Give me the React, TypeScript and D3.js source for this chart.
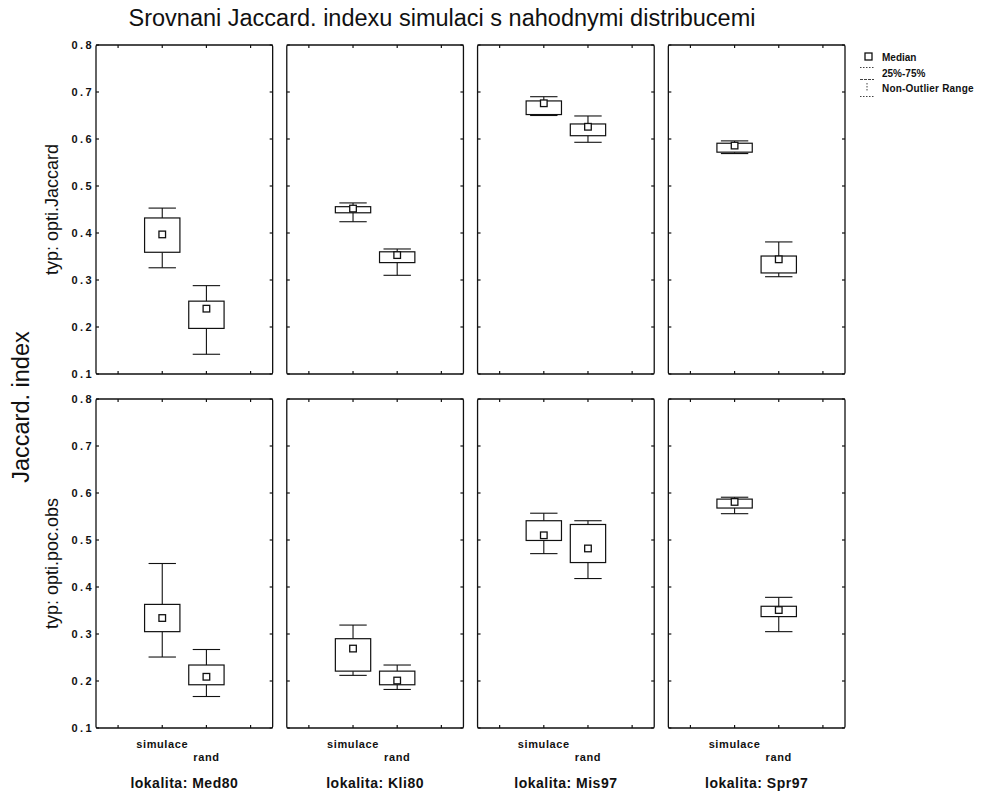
import React from "react";
import * as d3 from "d3";

const title = "Srovnani Jaccard. indexu simulaci s nahodnymi distribucemi";
const yAxisTitle = "Jaccard. index";
const locations = ["Med80", "Kli80", "Mis97", "Spr97"];
const types = ["opti.Jaccard", "opti.poc.obs"];
const groups = ["simulace", "rand"];
const yTicks = [0.1, 0.2, 0.3, 0.4, 0.5, 0.6, 0.7, 0.8];
const xTickPositions = [0.5, 1.5, 2.5, 3.5];
const groupPositions = [1.5, 2.5];

// [min, q1, median, q3, max] per location
const jaccardSimulace = [
  [0.326, 0.359, 0.397, 0.432, 0.453],
  [0.424, 0.443, 0.452, 0.456, 0.464],
  [0.65, 0.652, 0.676, 0.681, 0.69],
  [0.569, 0.572, 0.586, 0.591, 0.596],
];
const jaccardRand = [
  [0.142, 0.197, 0.239, 0.255, 0.288],
  [0.31, 0.337, 0.353, 0.36, 0.366],
  [0.593, 0.607, 0.626, 0.632, 0.649],
  [0.307, 0.315, 0.344, 0.351, 0.381],
];
const pocObsSimulace = [
  [0.251, 0.305, 0.334, 0.363, 0.45],
  [0.212, 0.221, 0.269, 0.29, 0.319],
  [0.471, 0.499, 0.51, 0.541, 0.557],
  [0.556, 0.568, 0.581, 0.587, 0.591],
];
const pocObsRand = [
  [0.167, 0.192, 0.209, 0.234, 0.267],
  [0.182, 0.192, 0.201, 0.221, 0.234],
  [0.418, 0.452, 0.482, 0.533, 0.541],
  [0.305, 0.337, 0.351, 0.359, 0.378],
];

const seriesByType = [
  [jaccardSimulace, jaccardRand],
  [pocObsSimulace, pocObsRand],
];

const legendLabels = ["Median", "25%-75%", "Non-Outlier Range"];

const FONT = "'Liberation Sans', Arial, Helvetica, sans-serif";
const INK = "#111";

export default function App() {
  const W = 982;
  const H = 796;
  const colX = d3.scaleBand<string>().domain(locations).range([96, 845]).paddingInner(0.074).paddingOuter(0);
  const rowTop = d3.scaleOrdinal<string, number>().domain(types).range([45, 399]);
  const panelH = 329;
  const pw = colX.bandwidth();
  const xs = d3.scaleLinear().domain([0, 4]).range([0, pw]);
  const boxW = xs(0.8) - xs(0);
  const capW = xs(0.62) - xs(0);

  return (
    <svg width={W} height={H} style={{ position: "absolute", left: 0, top: 0, background: "#fff" }} fontFamily={FONT}>
      <rect x={0} y={0} width={W} height={H} fill="#fff" />
      <text x={442} y={26} textAnchor="middle" fontSize={23.5} fill={INK}>{title}</text>
      <text transform={`translate(29,407) rotate(-90)`} textAnchor="middle" fontSize={23.5} fill={INK}>{yAxisTitle}</text>

      {types.map((t, ti) => {
        const top = rowTop(t);
        const ys = d3.scaleLinear().domain([0.1, 0.8]).range([top + panelH, top]);
        return (
          <g key={t}>
            <text transform={`translate(58,${top + panelH / 2}) rotate(-90)`} textAnchor="middle" fontSize={18} fill={INK}>{`typ: ${t}`}</text>
            {yTicks.map((v) => (
              <text key={v} x={94} y={ys(v) + 4} textAnchor="end" fontSize={11} fontWeight="bold" letterSpacing={2.4} fill={INK}>{v.toFixed(1)}</text>
            ))}
            {locations.map((loc, li) => {
              const x0 = colX(loc)!;
              return (
                <g key={loc} transform={`translate(${x0},0)`}>
                  <rect x={0} y={top} width={pw} height={panelH} fill="none" stroke={INK} strokeWidth={1.3} rx={1.5} />
                  {xTickPositions.map((p) => (
                    <g key={p}>
                      <line x1={xs(p)} x2={xs(p)} y1={top} y2={top + 3} stroke={INK} strokeWidth={1.2} />
                      <line x1={xs(p)} x2={xs(p)} y1={top + panelH} y2={top + panelH - 3} stroke={INK} strokeWidth={1.2} />
                    </g>
                  ))}
                  {yTicks.map((v) => (
                    <g key={v}>
                      <line x1={0} x2={3} y1={ys(v)} y2={ys(v)} stroke={INK} strokeWidth={1.2} />
                      <line x1={pw} x2={pw - 3} y1={ys(v)} y2={ys(v)} stroke={INK} strokeWidth={1.2} />
                    </g>
                  ))}
                  {groups.map((g, gi) => {
                    const [mn, q1, md, q3, mx] = seriesByType[ti][gi][li];
                    const cx = xs(groupPositions[gi]);
                    return (
                      <g key={g}>
                        <line x1={cx} x2={cx} y1={ys(mx)} y2={ys(q3)} stroke={INK} strokeWidth={1.1} />
                        <line x1={cx} x2={cx} y1={ys(q1)} y2={ys(mn)} stroke={INK} strokeWidth={1.1} />
                        <line x1={cx - capW / 2} x2={cx + capW / 2} y1={ys(mx)} y2={ys(mx)} stroke={INK} strokeWidth={1.1} />
                        <line x1={cx - capW / 2} x2={cx + capW / 2} y1={ys(mn)} y2={ys(mn)} stroke={INK} strokeWidth={1.1} />
                        <rect x={cx - boxW / 2} y={ys(q3)} width={boxW} height={ys(q1) - ys(q3)} fill="#fff" stroke={INK} strokeWidth={1.2} />
                        <rect x={cx - 3.3} y={ys(md) - 3.3} width={6.6} height={6.6} fill="#fff" stroke={INK} strokeWidth={1.3} />
                      </g>
                    );
                  })}
                  {ti === types.length - 1 && (
                    <g>
                      <text x={xs(groupPositions[0])} y={top + panelH + 20} textAnchor="middle" fontSize={11} fontWeight="bold" letterSpacing={0.6} fill={INK}>{groups[0]}</text>
                      <text x={xs(groupPositions[1])} y={top + panelH + 33} textAnchor="middle" fontSize={11} fontWeight="bold" letterSpacing={0.6} fill={INK}>{groups[1]}</text>
                      <text x={pw / 2} y={top + panelH + 60} textAnchor="middle" fontSize={14} fontWeight="bold" letterSpacing={0.5} fill={INK}>{`lokalita: ${loc}`}</text>
                    </g>
                  )}
                </g>
              );
            })}
          </g>
        );
      })}

      {/* legend */}
      <g>
        <rect x={865} y={53} width={7} height={7} fill="#fff" stroke={INK} strokeWidth={1.3} />
        <text x={882} y={61} fontSize={10} fontWeight="bold" fill={INK}>{legendLabels[0]}</text>
        <line x1={860} x2={874} y1={67.5} y2={67.5} stroke={INK} strokeWidth={0.8} strokeDasharray="1.5,1.5" />
        <line x1={860} x2={874} y1={79.5} y2={79.5} stroke={INK} strokeWidth={0.8} strokeDasharray="3,1" />
        <text x={882} y={77} fontSize={10} fontWeight="bold" fill={INK}>{legendLabels[1]}</text>
        <line x1={867} x2={867} y1={83} y2={91} stroke={INK} strokeWidth={0.8} strokeDasharray="1.5,1.5" />
        <line x1={860} x2={874} y1={96.5} y2={96.5} stroke={INK} strokeWidth={0.8} strokeDasharray="1.5,1.5" />
        <text x={882} y={92} fontSize={10} fontWeight="bold" letterSpacing={0.2} fill={INK}>{legendLabels[2]}</text>
      </g>
    </svg>
  );
}
